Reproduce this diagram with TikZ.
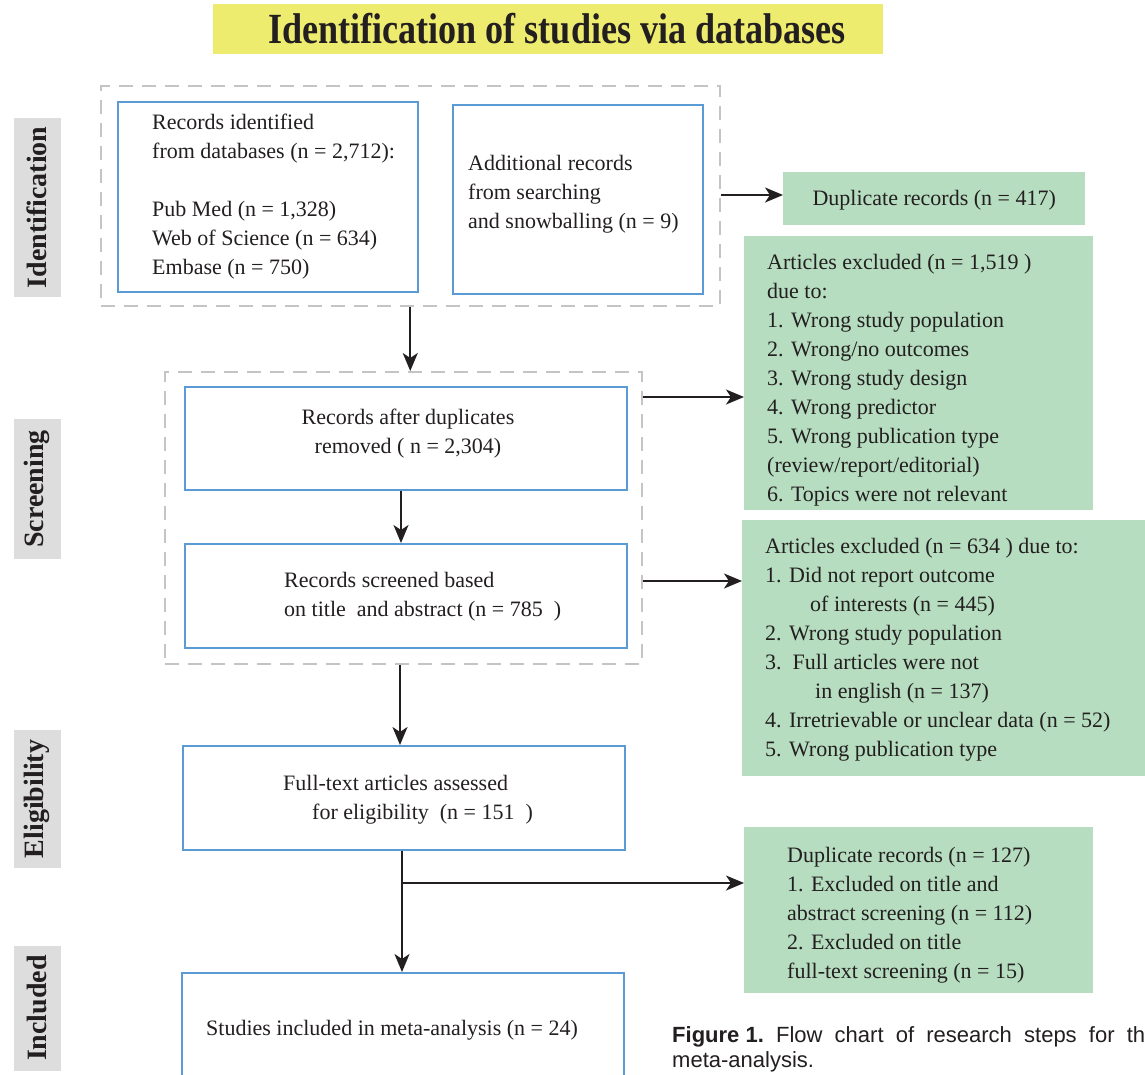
\documentclass[tikz,border=0pt]{standalone}
\usepackage{fontspec}
\setmainfont{Liberation Serif}
\newfontfamily\titlefont[FakeStretch=0.84]{Liberation Serif}
\newfontfamily\capfont{Liberation Sans}
\usetikzlibrary{arrows.meta,calc}
\definecolor{ink}{HTML}{231F20}
\definecolor{ttlyellow}{HTML}{EEEC6E}
\definecolor{sidegray}{HTML}{DDDDDD}
\definecolor{exgreen}{HTML}{B6DDC0}
\definecolor{boxblue}{HTML}{5B9BD5}
\definecolor{dashgray}{HTML}{C4C4C4}
\tikzset{
 bluebox/.style={draw=boxblue, line width=1.5pt, anchor=north west, inner sep=0pt},
 dashbox/.style={draw=dashgray, line width=1.5pt, dash pattern=on 14pt off 9pt, anchor=north west, inner sep=0pt},
 greenbox/.style={fill=exgreen, anchor=north west, inner sep=0pt},
 txt/.style={text=ink, font=\fontsize{22}{29}\selectfont, align=left, inner sep=0pt, anchor=north west},
 side/.style={fill=sidegray, rotate=90, minimum height=47pt, inner sep=0pt, text=ink, font=\fontsize{28}{30}\selectfont\bfseries},
 arr/.style={draw=ink, line width=2pt, -{Stealth[length=18pt,width=15pt,inset=5pt]}},
}
\begin{document}
\begin{tikzpicture}[x=1pt,y=-1pt]
\useasboundingbox (0,0) rectangle (1145,1074);
\clip (0,0) rectangle (1145,1074);
\fill[white] (0,0) rectangle (1145,1074);

% title
\node[fill=ttlyellow, minimum width=670pt, minimum height=50pt, inner sep=0pt, text=ink,
      font=\titlefont\bfseries\fontsize{43}{44}\selectfont] (title) at (548,29) {\hspace*{18pt}Identification of studies via databases};

% side labels
\node[side, minimum width=179pt] (sIdent) at (37,207.5) {Identification};
\node[side, minimum width=140pt] (sScreen) at (37,489) {Screening};
\node[side, minimum width=138pt] (sElig) at (37,799) {Eligibility};
\node[side, minimum width=125pt] (sIncl) at (37,1008) {Included};

% identification
\node[dashbox, minimum width=619pt, minimum height=220pt] (iddash) at (100,85) {};
\node[bluebox, minimum width=300pt, minimum height=190pt] (A) at (117,101) {};
\node[txt] (tA) at (152,114) {Records identified\\from databases (n = 2,712):\\[29pt]Pub Med (n = 1,328)\\Web of Science (n = 634)\\Embase (n = 750)};
\node[bluebox, minimum width=250pt, minimum height=189pt] (B) at (452,104) {};
\node[txt] (tB) at (468,155) {Additional records\\from searching\\and snowballing (n = 9)};

\node[greenbox, minimum width=302pt, minimum height=53pt] (dup) at (783,172) {};
\node[txt, anchor=center] (tdup) at ([yshift=-2pt]dup.center) {Duplicate records (n = 417)};

% screening
\node[dashbox, minimum width=477pt, minimum height=292pt] (scrdash) at (164,371) {};
\node[bluebox, minimum width=442pt, minimum height=103pt] (C) at (184,386) {};
\node[txt, align=center, anchor=center] (tC) at (408,434) {Records after duplicates\\removed ( n = 2,304)};
\node[bluebox, minimum width=442pt, minimum height=104pt] (D) at (184,543) {};
\node[txt] (tD) at (284,572) {Records screened based\\on title\ \ and abstract (n = 785\ \ )};

\node[greenbox, minimum width=349pt, minimum height=274pt] (E) at (744,236) {};
\node[txt] (tE) at (767,254) {Articles excluded (n = 1,519\ )\\due to:\\1. Wrong study population\\2. Wrong/no outcomes\\3. Wrong study design\\4. Wrong predictor\\5. Wrong publication type\\(review/report/editorial)\\6. Topics were not relevant};

\node[greenbox, minimum width=420pt, minimum height=256pt] (F) at (742,520) {};
\node[txt] (tF) at (765,538) {Articles excluded (n = 634\ ) due to:\\1. Did not report outcome\\\hspace*{45pt}of interests (n = 445)\\2. Wrong study population\\3.\ \ Full articles were not\\\hspace*{50pt}in english (n = 137)\\4. Irretrievable or unclear data (n = 52)\\5. Wrong publication type};

% eligibility
\node[bluebox, minimum width=442pt, minimum height=104pt] (G) at (182,745) {};
\node[txt] (tG) at (283,775) {Full-text articles assessed\\\hspace*{29pt}for eligibility\ \ (n = 151\ \ )};

\node[greenbox, minimum width=349pt, minimum height=166pt] (I) at (744,827) {};
\node[txt] (tI) at (787,847) {Duplicate records (n = 127)\\1. Excluded on title and\\abstract screening (n = 112)\\2. Excluded on title\\full-text screening (n = 15)};

% included
\node[bluebox, minimum width=442pt, minimum height=120pt] (H) at (181,972) {};
\node[txt] (tH) at (206,1020) {Studies included in meta-analysis (n = 24)};

% caption
\node[inner sep=0pt, anchor=north west, text=ink, font=\capfont\fontsize{22}{25}\selectfont, align=left] (cap) at (672,1026)
 {\makebox[473pt][s]{\mbox{\textbf{Figure 1.}} Flow chart of research steps for th}\\meta-analysis.};

% connectors
\coordinate (yDup) at (0,195);
\coordinate (yE) at (0,397);
\coordinate (yF) at (0,581);
\coordinate (yI) at (0,883);
\draw[arr] (iddash.east |- yDup) -- (dup.west |- yDup);
\draw[arr] (iddash.south) -- (iddash.south |- scrdash.north);
\draw[arr] (C.south -| 401,0) -- (D.north -| 401,0);
\draw[arr] (scrdash.east |- yE) -- (E.west |- yE);
\draw[arr] (scrdash.east |- yF) -- (F.west |- yF);
\draw[arr] (scrdash.south -| 400,0) -- (G.north -| 400,0);
\draw[arr] (G.south -| 402,0) -- (H.north -| 402,0);
\draw[arr] (G.south |- yI) ++(-1,0) -- (I.west |- yI);
\end{tikzpicture}
\end{document}
